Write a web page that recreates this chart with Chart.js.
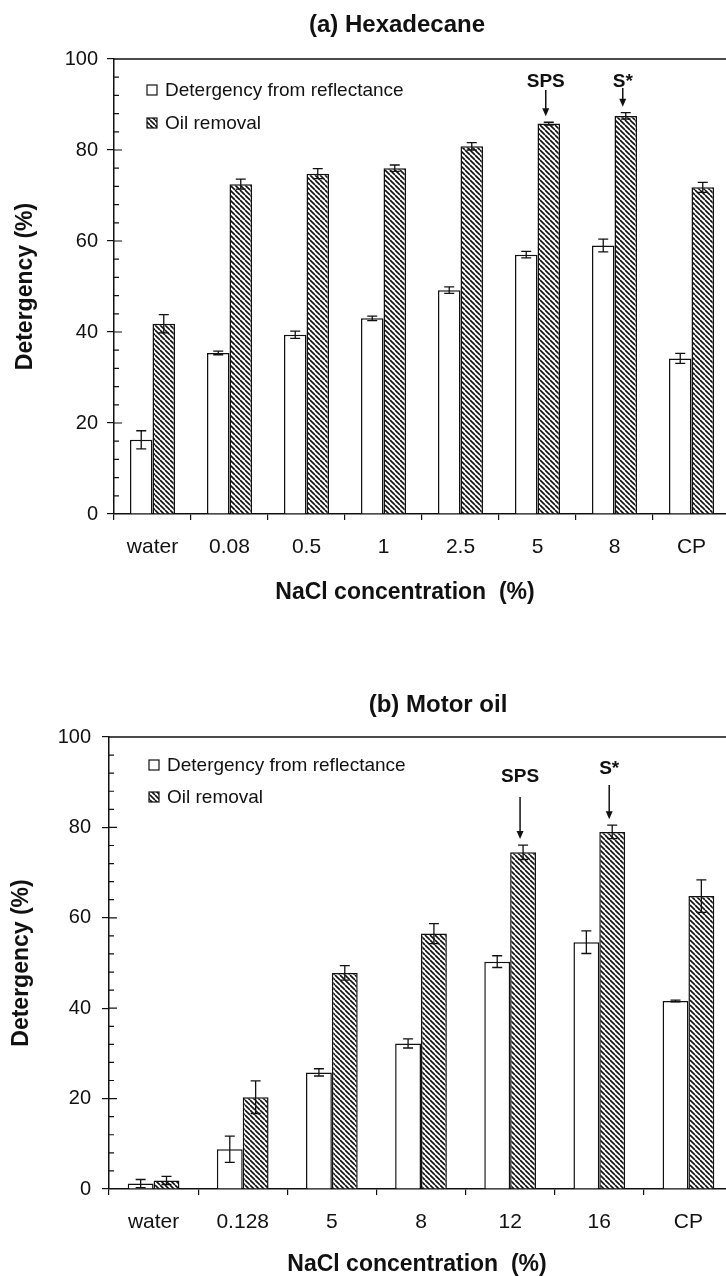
<!DOCTYPE html>
<html>
<head>
<meta charset="utf-8">
<script src="https://cdn.jsdelivr.net/npm/chart.js@4.4.1/dist/chart.umd.min.js"></script>
<style>
  html, body { margin: 0; padding: 0; background: #fff; overflow: hidden; }
  canvas { display: block; }
</style>
</head>
<body>
<canvas id="chartA" width="760" height="640"></canvas>
<canvas id="chartB" width="760" height="636"></canvas>
<script>
// (a) Hexadecane
const labelsA = ["water", "0.08", "0.5", "1", "2.5", "5", "8", "CP"];
const reflectA = [16.3, 35.4, 39.4, 43.0, 49.2, 57.0, 59.0, 34.2];
const reflectErrA = [2.0, 0.4, 0.8, 0.5, 0.7, 0.7, 1.4, 1.1];
const oilA = [41.8, 72.5, 74.8, 76.0, 80.8, 85.8, 87.5, 71.8];
const oilErrA = [2.0, 1.1, 1.1, 0.7, 0.8, 0.3, 0.7, 1.1];
const marksA = [
  { at: "5", text: "SPS", textAt: 95, arrowFrom: 93.2 },
  { at: "8", text: "S*", textAt: 95, arrowFrom: 93.6 }
];

// (b) Motor oil
const labelsB = ["water", "0.128", "5", "8", "12", "16", "CP"];
const reflectB = [1.2, 8.8, 25.8, 32.2, 50.3, 54.6, 41.6];
const reflectErrB = [0.9, 2.9, 0.8, 1.0, 1.3, 2.5, 0.2];
const oilB = [1.9, 20.3, 47.8, 56.5, 74.5, 79.0, 64.8];
const oilErrB = [0.9, 3.6, 1.6, 2.2, 1.6, 1.5, 3.6];
const marksB = [
  { at: "12", text: "SPS", textAt: 91.2, arrowFrom: 86.7 },
  { at: "16", text: "S*", textAt: 92.9, arrowFrom: 89.4 }
];

const seriesNames = ["Detergency from reflectance", "Oil removal"];
const INK = "#111";
const FONT = "'Liberation Sans', Arial, sans-serif";
Chart.defaults.font.family = FONT;
Chart.defaults.color = INK;

function hatchTile(size) {
  const c = document.createElement("canvas");
  c.width = c.height = size;
  const g = c.getContext("2d");
  g.fillStyle = "#fff";
  g.fillRect(0, 0, size, size);
  g.strokeStyle = INK;
  g.lineWidth = 1.6;
  g.beginPath();
  for (let i = -1; i <= 1; i++) {
    g.moveTo(i * size, 0);
    g.lineTo(i * size + size, size);
  }
  g.stroke();
  return c;
}

// error bars, inner ticks, frame, legend, titles, arrows
const extras = {
  id: "extras",
  afterDatasetsDraw(chart, args, o) {
    const ctx = chart.ctx;
    const y = chart.scales.y;
    const a = chart.chartArea;
    ctx.save();
    ctx.strokeStyle = INK;
    ctx.fillStyle = INK;

    // error bars
    ctx.lineWidth = 1.3;
    chart.data.datasets.forEach((ds, di) => {
      const errs = o.errors[di];
      chart.getDatasetMeta(di).data.forEach((bar, i) => {
        const top = y.getPixelForValue(ds.data[i] + errs[i]);
        const bot = y.getPixelForValue(ds.data[i] - errs[i]);
        ctx.beginPath();
        ctx.moveTo(bar.x, top); ctx.lineTo(bar.x, bot);
        ctx.moveTo(bar.x - 5, top); ctx.lineTo(bar.x + 5, top);
        ctx.moveTo(bar.x - 5, bot); ctx.lineTo(bar.x + 5, bot);
        ctx.stroke();
      });
    });

    // frame top/right and inward ticks on the y axis
    ctx.lineWidth = 1.5;
    ctx.beginPath();
    ctx.moveTo(a.left, a.top); ctx.lineTo(a.right, a.top); ctx.lineTo(a.right, a.bottom);
    ctx.stroke();
    ctx.lineWidth = 1.2;
    ctx.beginPath();
    for (let v = 4; v < 100; v += 4) {
      const py = y.getPixelForValue(v);
      ctx.moveTo(a.left, py);
      ctx.lineTo(a.left + (v % 20 === 0 ? 8 : 5), py);
    }
    ctx.stroke();

    // legend
    ctx.font = "19px " + FONT;
    ctx.textBaseline = "middle";
    ctx.textAlign = "left";
    chart.data.datasets.forEach((ds, di) => {
      const cy = a.top + o.legend.dy + di * o.legend.gap;
      const bx = a.left + o.legend.dx;
      ctx.fillStyle = ds.backgroundColor;
      ctx.fillRect(bx, cy - 5, 10, 10);
      ctx.lineWidth = 1.2;
      ctx.strokeRect(bx, cy - 5, 10, 10);
      ctx.fillStyle = INK;
      ctx.fillText(ds.label, bx + 18, cy + 1);
    });

    // SPS / S* arrows
    const oilMeta = chart.getDatasetMeta(1);
    const oil = chart.data.datasets[1].data;
    o.marks.forEach(m => {
      const i = chart.data.labels.indexOf(m.at);
      const x = oilMeta.data[i].x - 3;
      const tip = y.getPixelForValue(oil[i] + o.errors[1][i]) - 6;
      const from = y.getPixelForValue(m.arrowFrom);
      ctx.lineWidth = 1.5;
      ctx.beginPath();
      ctx.moveTo(x, from); ctx.lineTo(x, tip - 6);
      ctx.stroke();
      ctx.beginPath();
      ctx.moveTo(x, tip); ctx.lineTo(x - 3.5, tip - 8); ctx.lineTo(x + 3.5, tip - 8);
      ctx.closePath();
      ctx.fill();
      ctx.font = "bold 19px " + FONT;
      ctx.textAlign = "center";
      ctx.fillText(m.text, x, y.getPixelForValue(m.textAt));
    });

    // chart title and x axis title
    ctx.textAlign = "center";
    ctx.font = "bold 24px " + FONT;
    ctx.fillText(o.title, o.titleX, o.titleY);
    ctx.font = "bold 23px " + FONT;
    ctx.fillText("NaCl concentration  (%)", o.xTitleX, o.xTitleY);
    ctx.restore();
  }
};

function makeChart(id, p) {
  const ctx = document.getElementById(id).getContext("2d");
  const pattern = ctx.createPattern(hatchTile(5), "repeat");
  return new Chart(ctx, {
    type: "bar",
    data: {
      labels: p.labels,
      datasets: [
        { label: seriesNames[0], data: p.reflect, backgroundColor: "#fff",
          borderColor: INK, borderWidth: 1.5, barPercentage: 1, categoryPercentage: p.catPct },
        { label: seriesNames[1], data: p.oil, backgroundColor: pattern,
          borderColor: INK, borderWidth: 1.5, barPercentage: 1, categoryPercentage: p.catPct }
      ]
    },
    options: {
      responsive: false,
      animation: false,
      layout: { padding: { top: p.top, right: p.right, left: 0, bottom: 0 } },
      plugins: {
        legend: { display: false },
        tooltip: { enabled: false },
        extras: {
          errors: [p.reflectErr, p.oilErr],
          marks: p.marks,
          legend: p.legend,
          title: p.title, titleX: p.titleX, titleY: p.titleY,
          xTitleX: p.xTitleX, xTitleY: p.xTitleY
        }
      },
      scales: {
        x: {
          afterFit: s => { s.height = p.xHeight; },
          grid: { drawOnChartArea: false, color: INK, tickLength: 6, lineWidth: 1.2 },
          border: { color: INK, width: 1.5 },
          ticks: { font: { size: 21 }, padding: 15, color: INK }
        },
        y: {
          min: 0, max: 100,
          afterFit: s => { s.width = p.yWidth; },
          afterBuildTicks: s => { s.ticks = [0, 20, 40, 60, 80, 100].map(v => ({ value: v })); },
          grid: { drawOnChartArea: false, color: INK, tickLength: 7, lineWidth: 1.2 },
          border: { color: INK, width: 1.5 },
          ticks: { font: { size: 20 }, padding: p.yTickPad, color: INK },
          title: { display: true, text: "Detergency (%)", color: INK,
                   font: { size: 23, weight: "bold" }, padding: { top: p.yTitlePad, bottom: 0 } }
        }
      }
    },
    plugins: [extras]
  });
}

makeChart("chartA", {
  labels: labelsA, reflect: reflectA, reflectErr: reflectErrA, oil: oilA, oilErr: oilErrA,
  marks: marksA, catPct: 0.585,
  top: 59, right: 30, xHeight: 126, yWidth: 114, yTitlePad: 12, yTickPad: 9,
  legend: { dx: 33, dy: 31, gap: 33 },
  title: "(a) Hexadecane", titleX: 397, titleY: 25,
  xTitleX: 405, xTitleY: 593
});

makeChart("chartB", {
  labels: labelsB, reflect: reflectB, reflectErr: reflectErrB, oil: oilB, oilErr: oilErrB,
  marks: marksB, catPct: 0.58,
  top: 97, right: 27, xHeight: 87, yWidth: 109, yTitlePad: 8, yTickPad: 11,
  legend: { dx: 40, dy: 28, gap: 32 },
  title: "(b) Motor oil", titleX: 438, titleY: 65,
  xTitleX: 417, xTitleY: 625
});
</script>
</body>
</html>
